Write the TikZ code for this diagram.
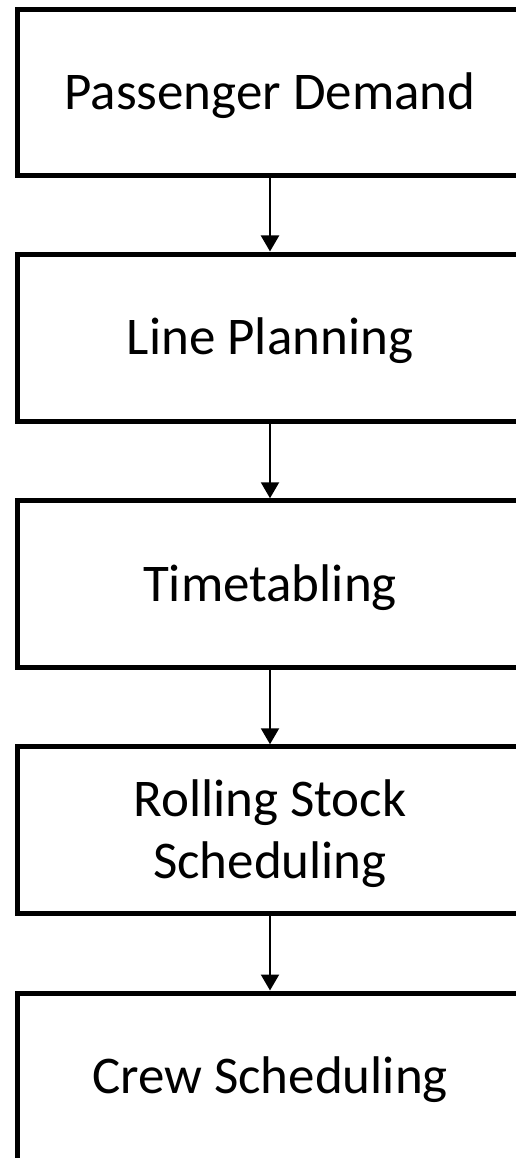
\documentclass[tikz,border=0pt]{standalone}
\usepackage{fontspec}
\setmainfont{Carlito}
\usetikzlibrary{arrows.meta}
\tikzset{
  box/.style={draw=black, line width=5pt, fill=white, rectangle, inner sep=0pt,
    minimum width=506pt, minimum height=167pt, align=center,
    text height=34pt, text depth=0pt,
    font=\fontsize{53}{62}\selectfont},
  flow/.style={line width=2.2pt, -{Triangle[width=18pt,length=16pt]}}
}
\begin{document}
\begin{tikzpicture}[x=1pt,y=1pt]
\useasboundingbox (0,0) rectangle (516,-1158);
\clip (0,0) rectangle (516,-1158);
\fill[white] (0,0) rectangle (516,-1158);
\node[box, minimum height=165.5pt] (b1) at (270,-92.75) {Passenger Demand};
\node[box] (b2) at (270,-337.5) {Line Planning};
\node[box] (b3) at (270,-584.25) {Timetabling};
\node[box, text height=96pt] (b4) at (270,-830.25) {Rolling Stock\\Scheduling};
\node[box] (b5) at (270,-1076.5) {Crew Scheduling};
\draw[flow] (b1.south) -- (b2.north);
\draw[flow] (b2.south) -- (b3.north);
\draw[flow] (b3.south) -- (b4.north);
\draw[flow] (b4.south) -- (b5.north);
\end{tikzpicture}
\end{document}
